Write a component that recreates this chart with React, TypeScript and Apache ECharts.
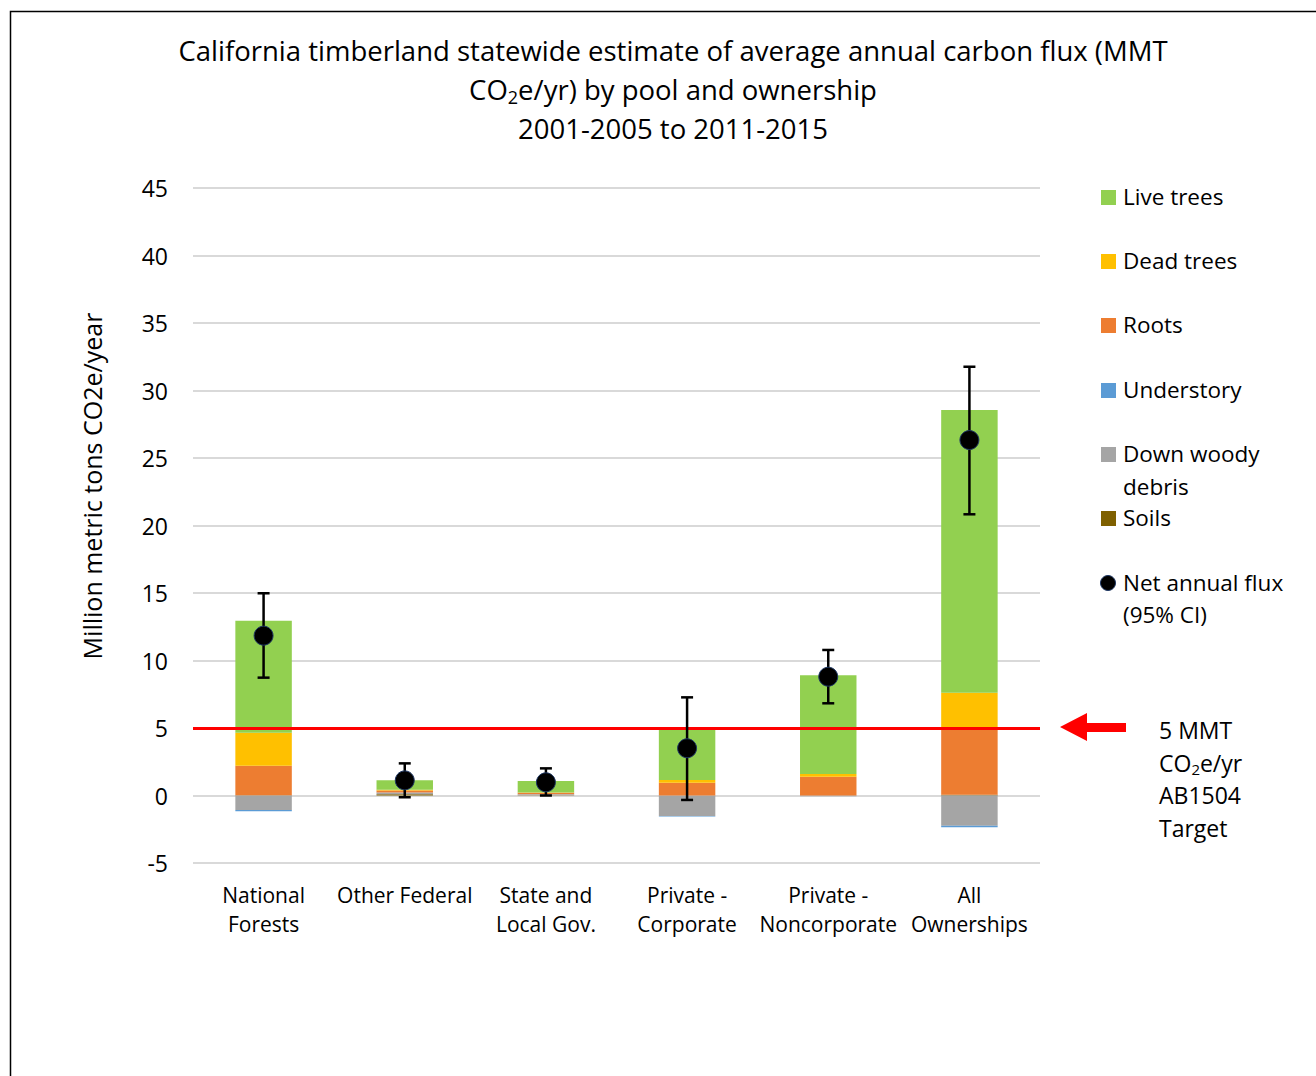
import React, { useEffect, useRef } from "react";
import * as echarts from "echarts";

const categories = [
  "National\nForests",
  "Other Federal",
  "State and\nLocal Gov.",
  "Private -\nCorporate",
  "Private -\nNoncorporate",
  "All\nOwnerships",
];

const liveTrees = [8.3, 0.7, 0.85, 3.76, 7.31, 20.94];
const deadTrees = [2.44, 0.06, 0.03, 0.2, 0.2, 2.69];
const roots = [2.19, 0.15, 0.1, 0.95, 1.39, 4.87];
const understory = [-0.1, 0.02, 0.02, -0.03, 0, -0.12];
const downWoody = [-1.07, 0.1, 0.06, -1.52, -0.05, -2.24];
const soils = [0.02, 0.1, 0.02, 0, 0, 0.05];

const netFlux = [11.84, 1.12, 0.98, 3.5, 8.8, 26.33];
const ciLow = [8.73, -0.13, 0.0, -0.33, 6.83, 20.83];
const ciHigh = [14.98, 2.38, 2.01, 7.27, 10.78, 31.76];

const targetValue = 5;

const yTicks = { min: -5, max: 45, interval: 5 };

const FONT = "'Open Sans', Lato, sans-serif";

const colors = {
  live: "#92D050",
  dead: "#FFC000",
  roots: "#ED7D31",
  understory: "#5B9BD5",
  downWoody: "#A5A5A5",
  soils: "#7F6000",
};

const legendItems = [
  { label: "Live trees", color: colors.live, y: 197 },
  { label: "Dead trees", color: colors.dead, y: 261 },
  { label: "Roots", color: colors.roots, y: 325 },
  { label: "Understory", color: colors.understory, y: 390 },
  { label: "Down woody\ndebris", color: colors.downWoody, y: 454 },
  { label: "Soils", color: colors.soils, y: 518 },
];

export default function App() {
  const ref = useRef<HTMLDivElement>(null);

  useEffect(() => {
    if (!ref.current) return;
    const chart = echarts.init(ref.current, null, { renderer: "svg" });

    const barSeries = (name: string, data: number[], color: string) => ({
      name,
      type: "bar",
      stack: "total",
      data,
      barWidth: "40%",
      itemStyle: { color },
      emphasis: { disabled: true },
      z: 2,
    });

    const legendGraphics: any[] = [];
    legendItems.forEach((it) => {
      legendGraphics.push({
        type: "rect",
        shape: { x: 1101, y: it.y - 7, width: 15, height: 15 },
        style: { fill: it.color },
      });
      legendGraphics.push({
        type: "text",
        x: 1123,
        y: it.y - 17,
        style: {
          text: it.label,
          font: `22.5px ${FONT}`,
          fill: "#000",
          lineHeight: 33,
          textVerticalAlign: "top",
        },
      });
    });
    legendGraphics.push({
      type: "circle",
      shape: { cx: 1108, cy: 583, r: 7.5 },
      style: { fill: "#000", stroke: "#1F3864", lineWidth: 1 },
    });
    legendGraphics.push({
      type: "text",
      x: 1123,
      y: 583 - 17,
      style: {
        text: "Net annual flux\n(95% CI)",
        font: `22.5px ${FONT}`,
        fill: "#000",
        lineHeight: 32,
        textVerticalAlign: "top",
      },
    });

    const option: any = {
      animation: false,
      backgroundColor: "#fff",
      textStyle: { fontFamily: FONT },
      title: {
        text:
          "California timberland statewide estimate of average annual carbon flux (MMT\nCO{sub|2}e/yr) by pool and ownership\n2001-2005 to 2011-2015",
        left: 668,
        textAlign: "center",
        top: 26,
        textStyle: {
          fontFamily: FONT,
          fontSize: 27.5,
          fontWeight: "normal",
          color: "#000",
          lineHeight: 39,
          rich: {
            sub: {
              fontFamily: FONT,
              fontSize: 18,
              color: "#000",
              padding: [14, 0, 0, 0],
            },
          },
        },
      },
      grid: { left: 193, right: 276, top: 188, bottom: 213 },
      xAxis: {
        type: "category",
        data: categories,
        axisLine: { show: false },
        axisTick: { show: false },
        axisLabel: {
          fontFamily: FONT,
          fontSize: 21,
          color: "#000",
          lineHeight: 29,
          margin: 17,
          interval: 0,
        },
      },
      yAxis: {
        type: "value",
        min: yTicks.min,
        max: yTicks.max,
        interval: yTicks.interval,
        axisLine: { show: false },
        axisTick: { show: false },
        axisLabel: { fontFamily: FONT, fontSize: 23, color: "#000", margin: 25 },
        splitLine: { lineStyle: { color: "#D9D9D9", width: 2 } },
      },
      series: [
        barSeries("Soils", soils, colors.soils),
        barSeries("Down woody debris", downWoody, colors.downWoody),
        barSeries("Understory", understory, colors.understory),
        barSeries("Roots", roots, colors.roots),
        barSeries("Dead trees", deadTrees, colors.dead),
        {
          ...barSeries("Live trees", liveTrees, colors.live),
          markLine: {
            silent: true,
            symbol: "none",
            label: { show: false },
            lineStyle: { color: "#FF0000", width: 3, type: "solid" },
            data: [{ yAxis: targetValue }],
            z: 5,
          },
        },
        {
          name: "CI",
          type: "custom",
          data: categories.map((_, i) => [i, ciLow[i], ciHigh[i]]),
          encode: { x: 0, y: [1, 2] },
          z: 6,
          renderItem: (params: any, api: any) => {
            const x = api.value(0);
            const lo = api.coord([x, api.value(1)]);
            const hi = api.coord([x, api.value(2)]);
            const cap = 6;
            const style = { stroke: "#000", lineWidth: 2.5 };
            return {
              type: "group",
              children: [
                { type: "line", shape: { x1: lo[0], y1: lo[1], x2: hi[0], y2: hi[1] }, style },
                { type: "line", shape: { x1: lo[0] - cap, y1: lo[1], x2: lo[0] + cap, y2: lo[1] }, style },
                { type: "line", shape: { x1: hi[0] - cap, y1: hi[1], x2: hi[0] + cap, y2: hi[1] }, style },
              ],
            };
          },
        },
        {
          name: "Net annual flux (95% CI)",
          type: "scatter",
          data: netFlux,
          symbol: "circle",
          symbolSize: 19,
          itemStyle: { color: "#000", borderColor: "#1F3864", borderWidth: 1, opacity: 1 },
          z: 10,
        },
      ],
      graphic: [
        {
          type: "rect",
          shape: { x: 10.5, y: 11.5, width: 1400, height: 1200 },
          style: { fill: "none", stroke: "#000", lineWidth: 1.5 },
          silent: true,
        },
        {
          type: "text",
          x: 92,
          y: 486,
          rotation: Math.PI / 2,
          style: {
            text: "Million metric tons CO2e/year",
            font: `25px ${FONT}`,
            fill: "#000",
            textAlign: "center",
            textVerticalAlign: "middle",
          },
        },
        ...legendGraphics,
        {
          type: "polygon",
          shape: {
            points: [
              [1060, 727],
              [1087, 713],
              [1087, 723],
              [1126, 723],
              [1126, 732],
              [1087, 732],
              [1087, 741],
            ],
          },
          style: { fill: "#FF0000" },
        },
        {
          type: "text",
          x: 1159,
          y: 714,
          style: {
            text: "5 MMT\nCO{sub|2}e/yr\nAB1504\nTarget",
            font: `23px ${FONT}`,
            fill: "#000",
            lineHeight: 32.5,
            textVerticalAlign: "top",
            rich: {
              sub: { fontFamily: FONT, fontSize: 15, padding: [12, 0, 0, 0], fill: "#000" },
            },
          },
        },
      ],
    };

    chart.setOption(option);
    return () => chart.dispose();
  }, []);

  return (
    <div
      ref={ref}
      style={{ position: "fixed", left: 0, top: 0, width: 1316, height: 1076 }}
    />
  );
}
